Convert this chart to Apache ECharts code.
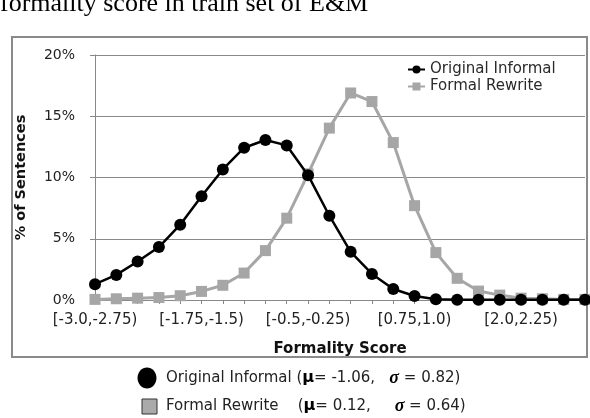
<!DOCTYPE html>
<html>
<head>
<meta charset="utf-8">
<script src="https://cdn.jsdelivr.net/npm/echarts@6/dist/echarts.min.js"></script>
<style>
html,body{margin:0;padding:0;background:#fff;}
#chart{width:590px;height:418px;}
</style>
</head>
<body>
<div id="chart"></div>
<script>
const categories = ["[-3.0,-2.75)","[-2.75,-2.5)","[-2.5,-2.25)","[-2.25,-2.0)","[-2.0,-1.75)","[-1.75,-1.5)","[-1.5,-1.25)","[-1.25,-1.0)","[-1.0,-0.75)","[-0.75,-0.5)","[-0.5,-0.25)","[-0.25,0.0)","[0.0,0.25)","[0.25,0.5)","[0.5,0.75)","[0.75,1.0)","[1.0,1.25)","[1.25,1.5)","[1.5,1.75)","[1.75,2.0)","[2.0,2.25)","[2.25,2.5)","[2.5,2.75)","[2.75,3.0)"];
const originalInformal = [1.29,2.05,3.14,4.32,6.15,8.47,10.66,12.43,13.06,12.62,10.19,6.88,3.93,2.13,0.9,0.33,0.06,0.03,0.02,0.02,0.02,0.02,0.02,0.02];
const formalRewrite = [0.05,0.1,0.15,0.2,0.35,0.7,1.2,2.2,4.03,6.68,10.3,14.03,16.9,16.2,12.85,7.7,3.87,1.77,0.73,0.4,0.15,0.1,0.05,0.05];
const yTicks = [0,5,10,15,20];
const seriesNames = ["Original Informal","Formal Rewrite"];
const stats = {informal:{mu:"-1.06",sigma:"0.82"}, formal:{mu:"0.12",sigma:"0.64"}};
const titleText = "formality score in train set of E&M";

const font = "DejaVu Sans";
const chart = echarts.init(document.getElementById('chart'), null, {renderer:'canvas'});
chart.setOption({
  animation:false,
  backgroundColor:'#fff',
  grid:{left:95,right:5,top:55,bottom:118,containLabel:false},
  legend:{
    data:seriesNames,
    orient:'vertical',
    left:402, top:57,
    itemWidth:17, itemHeight:10, itemGap:2,
    textStyle:{fontFamily:font,fontSize:15,color:'#2a2a2a'}
  },
  xAxis:{
    type:'category',
    data:categories,
    boundaryGap:false,
    axisLine:{lineStyle:{color:'#888',width:1}},
    axisTick:{show:true,interval:0,length:4,lineStyle:{color:'#888'}},
    axisLabel:{interval:4,margin:13,fontFamily:font,fontSize:15,color:'#222',showMinLabel:true,hideOverlap:false},
    name:'Formality Score',
    nameLocation:'middle',
    nameGap:42,
    nameTextStyle:{fontFamily:font,fontSize:15,fontWeight:'bold',color:'#111'}
  },
  yAxis:{
    type:'value',
    min:yTicks[0], max:yTicks[yTicks.length-1], interval:5,
    axisLine:{show:true,lineStyle:{color:'#888',width:1}},
    axisTick:{show:true,length:5,lineStyle:{color:'#888'}},
    axisLabel:{margin:20,fontFamily:font,fontSize:14,color:'#222',formatter:'{value}%'},
    splitLine:{lineStyle:{color:'#8a8a8a',width:1}},
    name:'% of Sentences',
    nameLocation:'middle',
    nameGap:66,
    nameTextStyle:{fontFamily:font,fontSize:14.5,fontWeight:'bold',color:'#111'}
  },
  series:[
    {
      name:seriesNames[1], type:'line', data:formalRewrite,
      symbol:'rect', symbolSize:11,
      lineStyle:{color:'#a6a6a6',width:3},
      itemStyle:{color:'#a6a6a6'},
      z:2
    },
    {
      name:seriesNames[0], type:'line', data:originalInformal,
      symbol:'circle', symbolSize:12,
      lineStyle:{color:'#000',width:2.5},
      itemStyle:{color:'#000'},
      z:3
    }
  ],
  graphic:[
    {type:'text', left:0, top:-9, style:{text:titleText, font:'26px "Liberation Serif"', fill:'#000'}},
    {type:'rect', shape:{x:12,y:37,width:575,height:320}, style:{fill:'none',stroke:'#8a8a8a',lineWidth:2}, silent:true},
    {type:'ellipse', shape:{cx:147,cy:378,rx:9.5,ry:10.5}, style:{fill:'#000'}},
    {type:'text', x:166, y:378, style:{
      text:'Original Informal ({b|μ}= ' + stats.informal.mu + ',   {s|σ} = ' + stats.informal.sigma + ')',
      font:'15px "DejaVu Sans"', fill:'#222', verticalAlign:'middle',
      rich:{b:{font:'bold 16px "DejaVu Sans"',fill:'#000'}, s:{font:'bold italic 18px "Liberation Serif"',fill:'#000'}}
    }},
    {type:'rect', shape:{x:142,y:399,width:15,height:15}, style:{fill:'#aaaaaa',stroke:'#333',lineWidth:1}},
    {type:'text', x:166, y:406, style:{
      text:'Formal Rewrite    ({b|μ}= ' + stats.formal.mu + ',     {s|σ} = ' + stats.formal.sigma + ')',
      font:'15px "DejaVu Sans"', fill:'#222', verticalAlign:'middle',
      rich:{b:{font:'bold 16px "DejaVu Sans"',fill:'#000'}, s:{font:'bold italic 18px "Liberation Serif"',fill:'#000'}}
    }}
  ]
});
</script>
</body>
</html>
